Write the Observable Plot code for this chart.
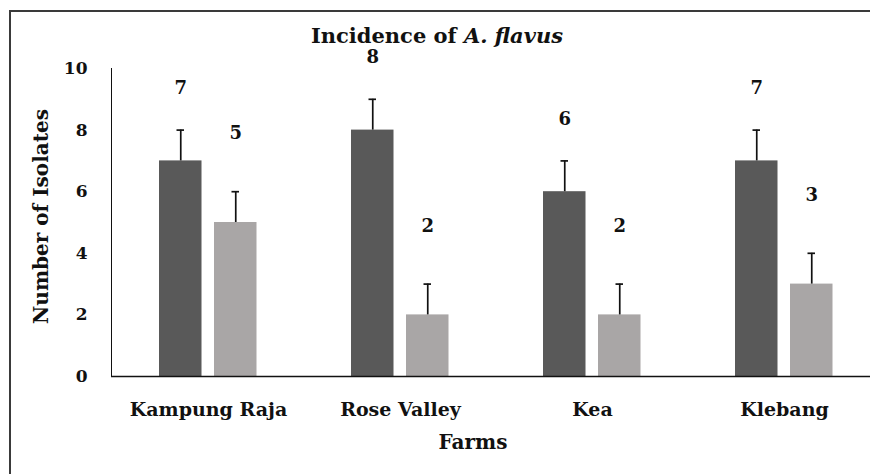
<!DOCTYPE html>
<html><head><meta charset="utf-8">
<script src="https://cdn.jsdelivr.net/npm/d3@7"></script>
<script src="https://cdn.jsdelivr.net/npm/@observablehq/plot@0.6"></script>
<style>
body{margin:0;background:#fff;}
#wrap{position:relative;width:870px;height:474px;overflow:hidden;background:#fff;}
#border{position:absolute;left:9px;top:10px;width:900px;height:500px;border-top:2.5px solid #3a3a3a;border-left:2.5px solid #3a3a3a;box-sizing:border-box;}
#title{position:absolute;top:24px;left:0;width:874px;text-align:center;font-family:"DejaVu Serif",serif;font-weight:bold;font-size:21px;line-height:24px;color:#111;}
#chart{position:absolute;left:0;top:0;}
#chart svg [aria-label^="x-axis"] text{font-size:19px;}
#chart svg [aria-label^="y-axis"] text{font-size:17px;}
</style>
</head><body>
<div id="wrap">
  <div id="border"></div>
  <div id="chart"></div>
  <div id="title">Incidence of <i>A. flavus</i></div>
</div>
<script>
const farms = ["Kampung Raja", "Rose Valley", "Kea", "Klebang"];
const series1Values = [7, 8, 6, 7];
const series2Values = [5, 2, 2, 3];
const series1Errors = [1, 1, 1, 1];
const series2Errors = [1, 1, 1, 1];
const yTicks = [0, 2, 4, 6, 8, 10];
const xTitle = ["Farms"];
const yTitle = ["Number of Isolates"];

const s1 = farms.map((f, i) => ({farm: f, value: series1Values[i], err: series1Errors[i]}));
const s2 = farms.map((f, i) => ({farm: f, value: series2Values[i], err: series2Errors[i]}));

const dark = "#595959", light = "#a9a6a6";
const font = "DejaVu Serif";

const chart = Plot.plot({
  width: 870,
  height: 474,
  marginTop: 68,
  marginBottom: 98,
  marginLeft: 111,
  marginRight: 0,
  style: {fontFamily: font, fontWeight: "bold", fontSize: "17px", color: "#111", background: "transparent"},
  x: {type: "band", domain: farms, range: [111, 881], padding: 0, tickSize: 0, tickPadding: 26, label: null},
  y: {domain: [0, 10], ticks: yTicks, tickSize: 0, tickPadding: 24, line: true, label: null, tickFormat: d => String(d)},
  marks: [
    Plot.barY(s1, {x: "farm", y: "value", fill: dark, insetLeft: 47, insetRight: 102.5}),
    Plot.barY(s2, {x: "farm", y: "value", fill: light, insetLeft: 102, insetRight: 47.5}),
    Plot.ruleX(s1, {x: "farm", y1: "value", y2: d => d.value + d.err, dx: -27.75, stroke: "#111", strokeWidth: 1.7}),
    Plot.ruleX(s2, {x: "farm", y1: "value", y2: d => d.value + d.err, dx: 27.25, stroke: "#111", strokeWidth: 1.7}),
    Plot.tickY(s1, {x: "farm", y: d => d.value + d.err, insetLeft: 64.5, insetRight: 120, stroke: "#111", strokeWidth: 1.7}),
    Plot.tickY(s2, {x: "farm", y: d => d.value + d.err, insetLeft: 119.5, insetRight: 65, stroke: "#111", strokeWidth: 1.7}),
    Plot.text(s1, {x: "farm", y: d => d.value + d.err, text: d => String(d.value), dx: -27.75, dy: -42, fontSize: 18, fill: "#111"}),
    Plot.text(s2, {x: "farm", y: d => d.value + d.err, text: d => String(d.value), dx: 27.25, dy: -58, fontSize: 18, fill: "#111"}),
    Plot.ruleY([0], {stroke: "#111", strokeWidth: 1.6}),
    Plot.text(xTitle, {text: d => d, frameAnchor: "bottom", dy: 72, dx: -18, fontSize: 20, fill: "#111"}),
    Plot.text(yTitle, {text: d => d, frameAnchor: "left", textAnchor: "middle", dx: -70, dy: -6, rotate: -90, fontSize: 20, fill: "#111"})
  ]
});
document.getElementById("chart").appendChild(chart);
</script>
</body></html>
